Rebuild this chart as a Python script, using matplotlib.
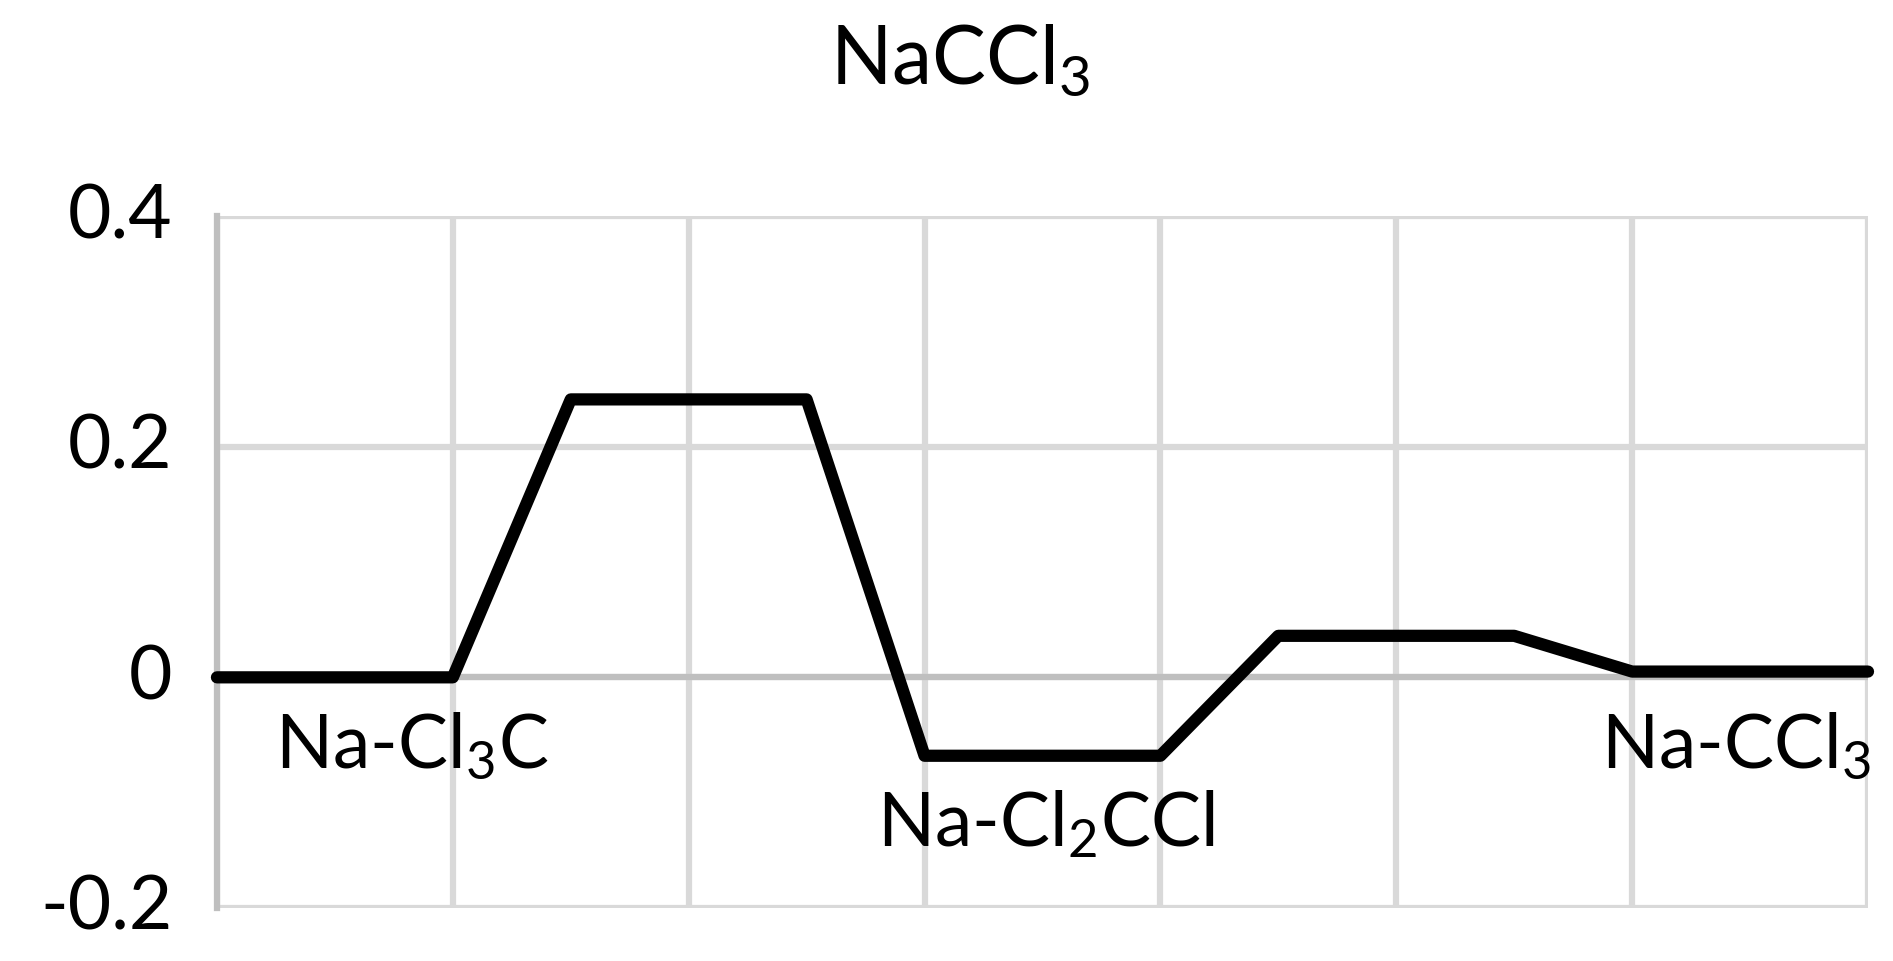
import matplotlib
matplotlib.use('Agg')
import matplotlib.pyplot as plt
from matplotlib.transforms import ScaledTranslation

# Data
x_vals = [0, 2, 3, 5, 6, 8, 9, 11, 12, 14]
y_vals = [0, 0, 0.241, 0.241, -0.068, -0.068, 0.036, 0.036, 0.005, 0.005]
x_ticks = [0, 2, 4, 6, 8, 10, 12, 14]
y_ticks = [-0.2, 0, 0.2, 0.4]
y_tick_labels = ['-0.2', '0', '0.2', '0.4']
state_labels = [r'Na-Cl$_3$C', r'Na-Cl$_2$CCl', r'Na-CCl$_3$']
state_x = [1.65, 7.03, 12.88]
state_y = [-0.077, -0.146, -0.077]

plt.rcParams['font.family'] = ['Lato', 'DejaVu Sans']
plt.rcParams['mathtext.fontset'] = 'custom'
plt.rcParams['mathtext.rm'] = 'Lato'
plt.rcParams['mathtext.it'] = 'Lato:italic'
plt.rcParams['mathtext.bf'] = 'Lato:bold'

fig = plt.figure(figsize=(18.93, 9.62), dpi=100)
ax = fig.add_axes([0.1146, 0.0551, 0.8722, 0.7193])

ax.plot(x_vals, y_vals, color='black', lw=8.8, solid_capstyle='round',
        solid_joinstyle='round', clip_on=False, zorder=5)

ax.set_xlim(0, 14)
ax.set_ylim(-0.2, 0.4)
ax.set_xticks(x_ticks)
ax.set_xticklabels([str(t) for t in x_ticks], color='white', fontsize=4)
ax.set_yticks(y_ticks)
ax.set_yticklabels(y_tick_labels, fontsize=54)
ax.tick_params(axis='both', length=0)
ax.tick_params(axis='y', pad=32)
ax.tick_params(axis='x', pad=2)

# nudge y labels up so they sit centred on the gridlines
shift = ScaledTranslation(0, 0.07, fig.dpi_scale_trans)
for lbl in ax.get_yticklabels():
    lbl.set_transform(lbl.get_transform() + shift)

ax.grid(True, color='#d9d9d9', lw=4.5, zorder=0)
ax.set_axisbelow(True)
for s in ['top', 'right', 'bottom']:
    ax.spines[s].set_visible(False)
ax.spines['left'].set_color('#bfbfbf')
ax.spines['left'].set_linewidth(4.5)
ax.axhline(0, color='#bfbfbf', lw=4.5, zorder=1)

for lab, lx, ly in zip(state_labels, state_x, state_y):
    ax.text(lx, ly, lab, fontsize=54, ha='center', va='baseline', zorder=6)

fig.text(0.507, 0.913, r'NaCCl$_3$', fontsize=58, ha='center', va='baseline')

fig.savefig('out.png', dpi=100, facecolor='white')
